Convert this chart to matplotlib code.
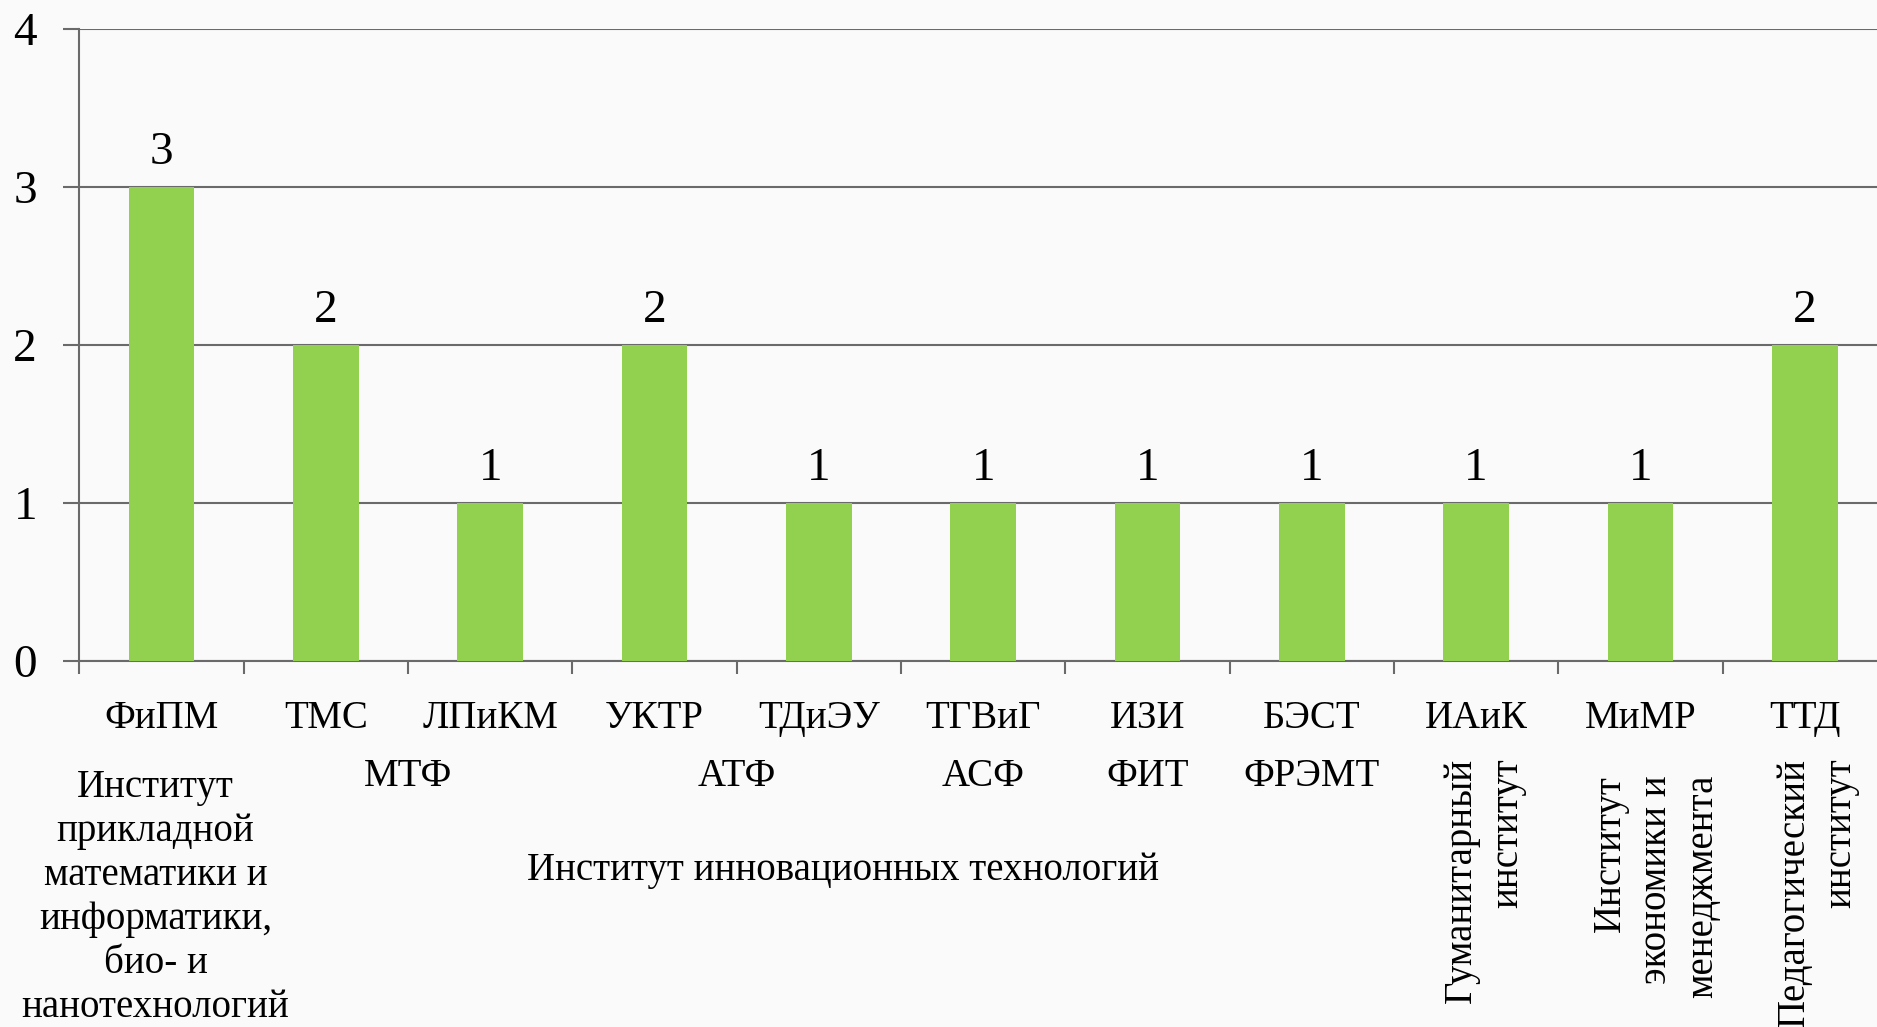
import matplotlib
matplotlib.use("Agg")
import matplotlib.pyplot as plt
import numpy as np

plt.rcParams['font.family'] = ['Liberation Serif', 'DejaVu Serif']

# ---- data ----
departments = ['ФиПМ', 'ТМС', 'ЛПиКМ', 'УКТР', 'ТДиЭУ', 'ТГВиГ', 'ИЗИ', 'БЭСТ', 'ИАиК', 'МиМР', 'ТТД']
values = [3, 2, 1, 2, 1, 1, 1, 1, 1, 1, 2]
faculties = ['', 'МТФ', 'МТФ', 'АТФ', 'АТФ', 'АСФ', 'ФИТ', 'ФРЭМТ', '', '', '']
inst_fipm = 'Институт\nприкладной\nматематики и\nинформатики,\nбио- и\nнанотехнологий'
inst_iit = 'Институт инновационных технологий'
inst_gum = 'Гуманитарный\nинститут'
inst_eco = 'Институт\nэкономики и\nменеджмента'
inst_ped = 'Педагогический\nинститут'
institutes = [inst_fipm] + [inst_iit] * 7 + [inst_gum, inst_eco, inst_ped]
y_ticks = [0, 1, 2, 3, 4]

# ---- layout ----
W, H = 1877, 1027
AX_L, AX_R, AX_B, AX_T = 79.4, 1887.0, 661.0, 28.7
GRID = '#6a6a6a'
BAR = '#92d050'
BG = '#fafafa'

fig = plt.figure(figsize=(W / 100, H / 100), dpi=100, facecolor=BG)
ax = fig.add_axes([AX_L / W, (H - AX_B) / H, (AX_R - AX_L) / W, (AX_B - AX_T) / H])
ax.set_facecolor(BG)

x = np.arange(len(departments))
bars = ax.bar(x, values, width=0.4, color=BAR, zorder=3)
ax.set_xlim(-0.5, len(departments) - 0.5)
ax.set_ylim(0, 4)

# y axis
ax.set_yticks(y_ticks)
ax.set_yticklabels([str(v) for v in y_ticks], fontsize=34)
ax.tick_params(axis='y', length=11.5, width=1.5, color=GRID, pad=19, direction='out')
ax.yaxis.grid(True, color=GRID, linewidth=1.5, zorder=0)
ax.set_axisbelow(True)

# x axis: ticks at category boundaries
ax.set_xticks(np.arange(len(departments) + 1) - 0.5)
ax.set_xticklabels([])
ax.tick_params(axis='x', length=9.4, width=1.5, color=GRID, direction='out')

for s in ['top', 'right']:
    ax.spines[s].set_visible(False)
for s in ['left', 'bottom']:
    ax.spines[s].set_color(GRID)
    ax.spines[s].set_linewidth(1.5)

# data labels
for xi, v in zip(x, values):
    ax.annotate(str(v), (xi, v), xytext=(0, 16.5), textcoords='offset points',
                ha='center', va='baseline', fontsize=34)

trans = ax.get_xaxis_transform()
PH = AX_B - AX_T
CW = (AX_R - AX_L) / len(departments)


def yf(ypix):
    return (AX_B - ypix) / PH


FS = 28
# level 1
for xi, d in zip(x, departments):
    ax.text(xi, yf(728), d, transform=trans, ha='center', va='baseline', fontsize=FS)


def spans(labels):
    out = []
    i = 0
    while i < len(labels):
        j = i
        while j + 1 < len(labels) and labels[j + 1] == labels[i]:
            j += 1
        if labels[i]:
            out.append((labels[i], i, j))
        i = j + 1
    return out


# level 2
for lab, i, j in spans(faculties):
    ax.text((i + j) / 2, yf(786), lab, transform=trans, ha='center', va='baseline', fontsize=FS)

# level 3
inst_spans = spans(institutes)
nudges = {inst_fipm: -6, inst_iit: 24, inst_gum: 8, inst_eco: 16, inst_ped: 13}
for lab, i, j in inst_spans:
    cx = (i + j) / 2 + nudges[lab] / CW
    lines = lab.split('\n')
    if lab == inst_fipm or lab == inst_iit:
        base = 797 if lab == inst_fipm else 880
        for k, ln in enumerate(lines):
            ax.text(cx, yf(base + 44.0 * k), ln, transform=trans, ha='center',
                    va='baseline', fontsize=FS)
    else:
        top = 775 if lab == inst_eco else 758
        n = len(lines)
        for k, ln in enumerate(lines):
            lx = cx + (k - (n - 1) / 2) * 46.5 / CW
            ax.text(lx, yf(top), ln, transform=trans, ha='center', va='top',
                    rotation=90, fontsize=FS)

fig.savefig('out.png', dpi=100, facecolor=BG)
